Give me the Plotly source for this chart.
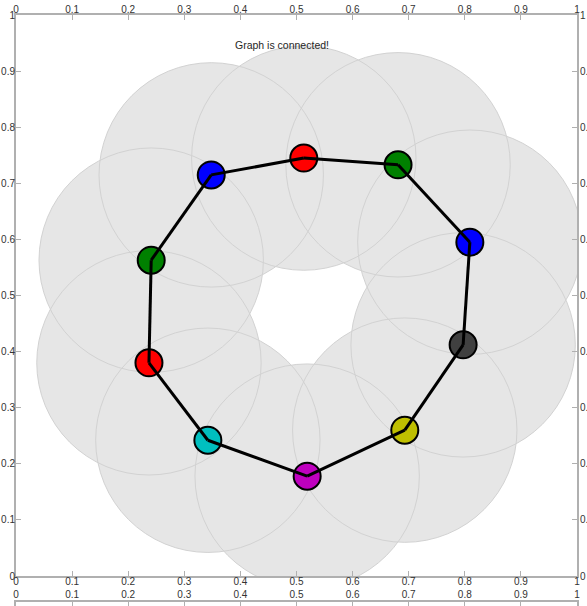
import plotly.graph_objects as go

# ---- data ----
node_x = [0.513, 0.681, 0.809, 0.797, 0.693, 0.519, 0.342, 0.237, 0.241, 0.348]
node_y = [0.745, 0.733, 0.595, 0.412, 0.260, 0.178, 0.242, 0.380, 0.563, 0.715]
node_colors = ["#ff0000", "#008000", "#0000ff", "#404040", "#bfbf00",
               "#bf00bf", "#00bfbf", "#ff0000", "#008000", "#0000ff"]
edges = [(0, 1), (1, 2), (2, 3), (3, 4), (4, 5), (5, 6), (6, 7), (7, 8), (8, 9), (9, 0)]
comm_radius = 0.2
tick_vals = [0, 0.1, 0.2, 0.3, 0.4, 0.5, 0.6, 0.7, 0.8, 0.9, 1]
title_text = "Graph is connected!"

W, H = 587, 606
ML, MR, MT, MB = 16, 10, 15, 0
plot_h = H - MT - MB
main_bottom = (H - 576) / plot_h
sub_top = (H - 602) / plot_h

AX = "#b0b0b0"
TXT = "#333333"
FONT = dict(family="Liberation Sans, Arial, sans-serif", size=10, color=TXT)

fig = go.Figure()

# nodes
fig.add_trace(go.Scatter(
    x=node_x, y=node_y, mode="markers",
    marker=dict(size=27, color=node_colors, line=dict(color="black", width=2)),
    xaxis="x", yaxis="y", showlegend=False, hoverinfo="skip"))

# edges on top
ex, ey = [], []
for a, b in edges:
    ex += [node_x[a], node_x[b], None]
    ey += [node_y[a], node_y[b], None]
fig.add_trace(go.Scatter(
    x=ex, y=ey, mode="lines", line=dict(color="black", width=3),
    xaxis="x", yaxis="y", showlegend=False, hoverinfo="skip"))

# dummy traces to register overlay axes / second subplot
fig.add_trace(go.Scatter(x=[None], y=[None], xaxis="x2", yaxis="y2", showlegend=False))
fig.add_trace(go.Scatter(x=[None], y=[None], xaxis="x3", yaxis="y3", showlegend=False))
fig.add_trace(go.Scatter(x=[None], y=[None], xaxis="x3", yaxis="y4", showlegend=False))

# communication-range circles: fills first, then outlines
shapes = []
for cx, cy in zip(node_x, node_y):
    shapes.append(dict(type="circle", xref="x", yref="y",
                       x0=cx - comm_radius, x1=cx + comm_radius,
                       y0=cy - comm_radius, y1=cy + comm_radius,
                       fillcolor="#e6e6e6", line=dict(width=0), layer="below"))
for cx, cy in zip(node_x, node_y):
    shapes.append(dict(type="circle", xref="x", yref="y",
                       x0=cx - comm_radius, x1=cx + comm_radius,
                       y0=cy - comm_radius, y1=cy + comm_radius,
                       fillcolor="rgba(0,0,0,0)", line=dict(color="#d2d2d2", width=1),
                       layer="below"))

axis_common = dict(range=[0, 1], tickvals=tick_vals, ticks="inside", ticklen=5,
                   tickwidth=1, tickcolor=AX, showline=True, linecolor=AX, linewidth=2,
                   showgrid=False, zeroline=False, tickfont=FONT, fixedrange=True,
                   automargin=False)

fig.update_layout(
    width=W, height=H,
    margin=dict(l=ML, r=MR, t=MT, b=MB, pad=0, autoexpand=False),
    paper_bgcolor="white", plot_bgcolor="white",
    showlegend=False,
    shapes=shapes,
    xaxis=dict(domain=[0, 1], anchor="y", side="bottom", ticklabelstandoff=-5, **axis_common),
    xaxis2=dict(overlaying="x", anchor="y", side="top", ticklabelstandoff=-4, **axis_common),
    yaxis=dict(domain=[main_bottom, 1], anchor="x", side="left", ticklabelstandoff=-3,
               **axis_common),
    yaxis2=dict(overlaying="y", anchor="x", side="right", ticklabelstandoff=-1, **axis_common),
    xaxis3=dict(domain=[0, 1], anchor="y3", side="top", ticklabelstandoff=-2, **axis_common),
    yaxis3=dict(domain=[0, sub_top], anchor="x3", side="left", ticklabelstandoff=-3,
                **{**axis_common, "tickvals": [1]}),
    yaxis4=dict(overlaying="y3", anchor="x3", side="right", ticklabelstandoff=-1,
                **{**axis_common, "tickvals": [1]}),
    annotations=[dict(text=title_text, x=0.475, y=0.9465, xref="x", yref="y",
                      showarrow=False, font=dict(family=FONT["family"], size=10.5,
                                                 color="#262626"))],
)

fig.write_html("out.html")
